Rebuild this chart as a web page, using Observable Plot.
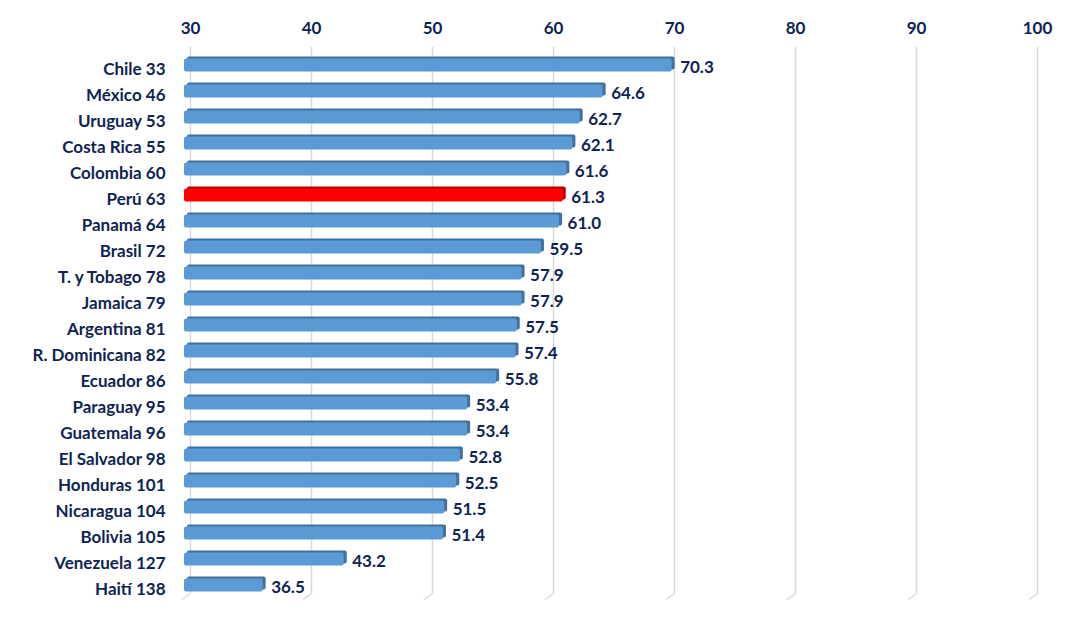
<!DOCTYPE html>
<html>
<head>
<meta charset="utf-8">
<script src="https://cdn.jsdelivr.net/npm/d3@7"></script>
<script src="https://cdn.jsdelivr.net/npm/@observablehq/plot@0.6"></script>
<style>
  html, body { margin: 0; padding: 0; background: #fff; }
  #chart svg { display: block; }
</style>
</head>
<body>
<div id="chart"></div>
<script>
const countries = ["Chile", "México", "Uruguay", "Costa Rica", "Colombia", "Perú", "Panamá", "Brasil", "T. y Tobago", "Jamaica", "Argentina", "R. Dominicana", "Ecuador", "Paraguay", "Guatemala", "El Salvador", "Honduras", "Nicaragua", "Bolivia", "Venezuela", "Haití"];
const ranks = [33, 46, 53, 55, 60, 63, 64, 72, 78, 79, 81, 82, 86, 95, 96, 98, 101, 104, 105, 127, 138];
const scores = [70.3, 64.6, 62.7, 62.1, 61.6, 61.3, 61.0, 59.5, 57.9, 57.9, 57.5, 57.4, 55.8, 53.4, 53.4, 52.8, 52.5, 51.5, 51.4, 43.2, 36.5];
const highlight = "Perú";
const xTicks = [30, 40, 50, 60, 70, 80, 90, 100];

const data = countries.map((c, i) => ({
  label: `${c} ${ranks[i]}`,
  country: c,
  value: scores[i],
  hl: c === highlight
}));
const labels = data.map(d => d.label);

const navy = "#0f2453";
const font = "Lato, 'Open Sans', sans-serif";
const fs = 17;

const bottomDiag = (index, scales, values, dimensions) => {
  const g = d3.create("svg:g").attr("stroke", "#d9d9d9").attr("stroke-width", 1.5).attr("fill", "none");
  const yb = dimensions.height - dimensions.marginBottom - 3.5;
  for (const t of xTicks) {
    const x = scales.x(t) + 6;
    g.append("line").attr("x1", x).attr("y1", yb).attr("x2", x - 8).attr("y2", yb + 5.5);
  }
  return g.node();
};

const chart = Plot.plot({
  width: 1086,
  height: 627,
  marginTop: 51.5,
  marginBottom: 29.5,
  marginLeft: 184,
  marginRight: 55,
  style: { fontFamily: font, fontSize: fs + "px", fontWeight: "bold", color: navy, background: "#fff" },
  x: { domain: [30, 100], axis: null },
  y: { domain: labels, padding: 0, axis: null },
  marks: [
    Plot.ruleX(xTicks, { dx: 6, stroke: "#d9d9d9", strokeWidth: 1.5, insetTop: -4.5, insetBottom: 3.5 }),
    bottomDiag,
    Plot.axisX(xTicks, { anchor: "top", label: null, tickSize: 0, tickPadding: 18, dx: 6, fontSize: fs, fontWeight: "bold", fill: navy }),
    // 3D depth (top & side faces)
    Plot.barX(data, { y: "label", x1: 30, x2: "value", dx: 3, dy: -2, insetTop: 6.5, insetBottom: 6.5, rx: 2,
      fill: d => d.hl ? "#b80000" : "#41719c" }),
    // front face
    Plot.barX(data, { y: "label", x1: 30, x2: "value", insetTop: 6.5, insetBottom: 6.5, rx: 2,
      fill: d => d.hl ? "#ff0000" : "#5b9bd5" }),
    Plot.text(data, { y: "label", x: "value", text: d => d.value.toFixed(1), textAnchor: "start", dx: 8, dy: 2.5,
      fill: navy, fontSize: fs, fontWeight: "bold" }),
    Plot.text(data, { y: "label", frameAnchor: "left", text: "label", textAnchor: "end", dx: -19, dy: 4,
      fill: navy, fontSize: fs, fontWeight: "bold" })
  ]
});
document.getElementById("chart").append(chart);
</script>
</body>
</html>
